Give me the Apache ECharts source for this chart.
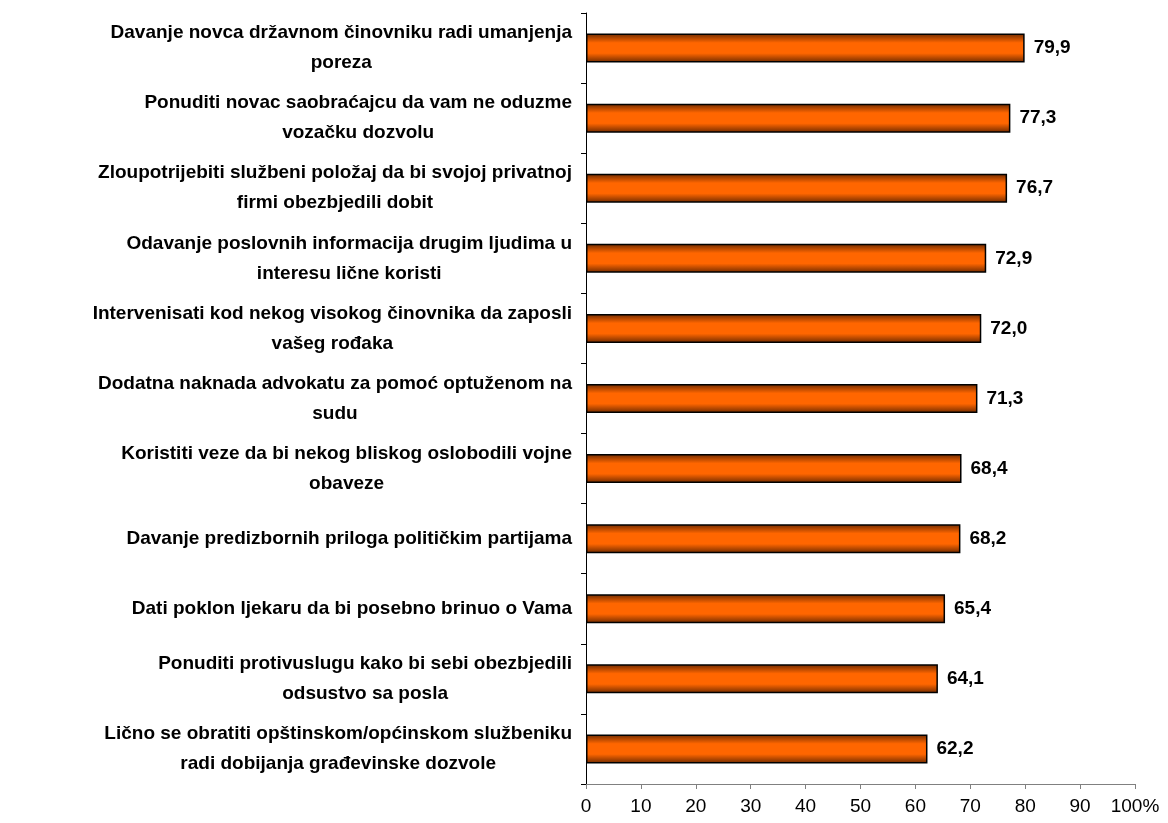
<!DOCTYPE html>
<html>
<head>
<meta charset="utf-8">
<script src="https://cdn.jsdelivr.net/npm/echarts@6/dist/echarts.min.js"></script>
<style>
  html, body { margin: 0; padding: 0; background: #fff; }
  #main { width: 1168px; height: 823px; }
</style>
</head>
<body>
<div id="main"></div>
<script>
  // categories, top to bottom
  var categories = [
    'Davanje novca državnom činovniku radi umanjenja\nporeza',
    'Ponuditi novac saobraćajcu da vam ne oduzme\nvozačku dozvolu',
    'Zloupotrijebiti službeni položaj da bi svojoj privatnoj\nfirmi obezbjedili dobit',
    'Odavanje poslovnih informacija drugim ljudima u\ninteresu lične koristi',
    'Intervenisati kod nekog visokog činovnika da zaposli\nvašeg rođaka',
    'Dodatna naknada advokatu za pomoć optuženom na\nsudu',
    'Koristiti veze da bi nekog bliskog oslobodili vojne\nobaveze',
    'Davanje predizbornih priloga političkim partijama',
    'Dati poklon ljekaru da bi posebno brinuo o Vama',
    'Ponuditi protivuslugu kako bi sebi obezbjedili\nodsustvo sa posla',
    'Lično se obratiti opštinskom/općinskom službeniku\nradi dobijanja građevinske dozvole'
  ];
  var values = [79.9, 77.3, 76.7, 72.9, 72.0, 71.3, 68.4, 68.2, 65.4, 64.1, 62.2];
  var xTicks = [0, 10, 20, 30, 40, 50, 60, 70, 80, 90, 100];

  var chart = echarts.init(document.getElementById('main'));

  chart.setOption({
    animation: false,
    grid: { left: 586, right: 33, top: 13, bottom: 39 },
    xAxis: {
      type: 'value',
      min: xTicks[0],
      max: xTicks[xTicks.length - 1],
      interval: 10,
      splitLine: { show: false },
      axisLine: { show: true, lineStyle: { color: '#808080', width: 1 } },
      axisTick: { show: true, length: 5, lineStyle: { color: '#808080' } },
      axisLabel: {
        margin: 13,
        color: '#000',
        fontFamily: 'Liberation Sans, Arial, sans-serif',
        fontSize: 19,
        formatter: function (v) { return v === 100 ? '100%' : String(v); }
      }
    },
    yAxis: {
      type: 'category',
      inverse: true,
      data: categories,
      axisLine: { show: true, lineStyle: { color: '#000', width: 1 } },
      axisTick: { show: true, length: 5, lineStyle: { color: '#000' } },
      axisLabel: {
        margin: 14,
        formatter: function (v) {
          return v.split('\n').map(function (s) { return '{c|' + s + '}'; }).join('\n');
        },
        rich: {
          c: {
            align: 'center',
            color: '#000',
            fontFamily: 'Liberation Sans, Arial, sans-serif',
            fontWeight: 'bold',
            fontSize: 19,
            lineHeight: 30
          }
        }
      }
    },
    series: [{
      type: 'bar',
      data: values,
      barWidth: 29,
      itemStyle: {
        borderColor: '#000',
        borderWidth: 1.5,
        color: new echarts.graphic.LinearGradient(0, 0, 0, 1, [
          { offset: 0, color: '#6e2a00' },
          { offset: 0.32, color: '#ff6600' },
          { offset: 0.68, color: '#ff6600' },
          { offset: 1, color: '#6e2a00' }
        ])
      },
      label: {
        show: true,
        position: 'right',
        distance: 9,
        color: '#000',
        fontFamily: 'Liberation Sans, Arial, sans-serif',
        fontWeight: 'bold',
        fontSize: 19,
        formatter: function (p) { return p.value.toFixed(1).replace('.', ','); }
      }
    }]
  });
</script>
</body>
</html>
